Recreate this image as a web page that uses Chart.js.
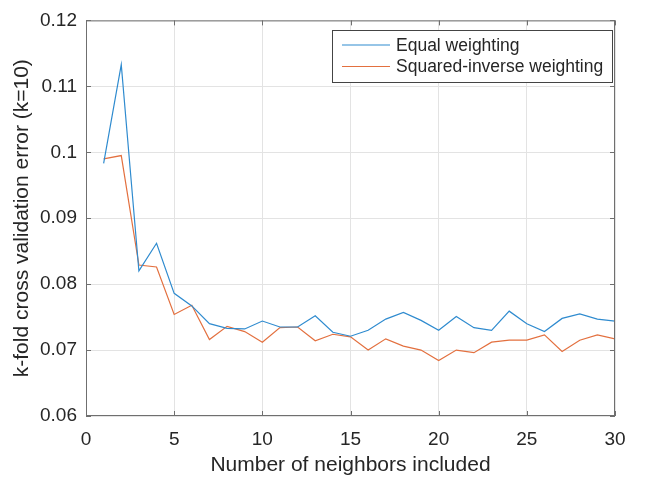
<!DOCTYPE html>
<html>
<head>
<meta charset="utf-8">
<script src="https://cdn.jsdelivr.net/npm/chart.js@4"></script>
<style>
  html, body { margin: 0; padding: 0; background: #fff; }
  #wrap { width: 649px; height: 479px; }
</style>
</head>
<body>
<div id="wrap"><canvas id="chartKnn" width="649" height="479"></canvas></div>
<script>
// ---------------- data ------------------------
const neighbors = [1, 2, 3, 4, 5, 6, 7, 8, 9, 10, 11, 12, 13, 14, 15,
                   16, 17, 18, 19, 20, 21, 22, 23, 24, 25, 26, 27, 28, 29, 30];
const equalWeighting = [0.0983, 0.1133, 0.0820, 0.0862, 0.0786, 0.0767, 0.0740, 0.0733, 0.0732, 0.0744,
                        0.0735, 0.0735, 0.0752, 0.0727, 0.0721, 0.0730, 0.0747, 0.0757, 0.0745, 0.0730,
                        0.0751, 0.0734, 0.0730, 0.0759, 0.0740, 0.0728, 0.0748, 0.0755, 0.0747, 0.0744];
const inverseWeighting = [0.0990, 0.0995, 0.0829, 0.0826, 0.0754, 0.0768, 0.0716, 0.0736, 0.0728, 0.0712,
                          0.0734, 0.0735, 0.0714, 0.0724, 0.0720, 0.0700, 0.0717, 0.0706, 0.0700, 0.0684,
                          0.0700, 0.0696, 0.0712, 0.0715, 0.0715, 0.0723, 0.0698, 0.0715, 0.0723, 0.0717];
const seriesLabels = ['Equal weighting', 'Squared-inverse weighting'];
const xTicks = [0, 5, 10, 15, 20, 25, 30];
const yTicks = [0.06, 0.07, 0.08, 0.09, 0.1, 0.11, 0.12];

const FONT = 'Liberation Sans, Arial, Helvetica, sans-serif';
const TEXT = '#262626';
const BOX = '#6f6f6f';

// box around the plot with inward ticks (matlab style)
const boxPlugin = {
    id: 'boxPlugin',
    afterDatasetsDraw(chart) {
        const { ctx, chartArea: a, scales } = chart;
        ctx.save();
        ctx.strokeStyle = BOX;
        ctx.lineWidth = 1;
        ctx.strokeRect(a.left + 0.5, a.top + 0.5, a.right - a.left - 1, a.bottom - a.top - 1);
        const len = 5;
        ctx.beginPath();
        xTicks.forEach(v => {
            const x = Math.round(scales.x.getPixelForValue(v)) + 0.5;
            ctx.moveTo(x, a.bottom); ctx.lineTo(x, a.bottom - len);
            ctx.moveTo(x, a.top); ctx.lineTo(x, a.top + len);
        });
        yTicks.forEach(v => {
            const y = Math.round(scales.y.getPixelForValue(v)) + 0.5;
            ctx.moveTo(a.left, y); ctx.lineTo(a.left + len, y);
            ctx.moveTo(a.right, y); ctx.lineTo(a.right - len, y);
        });
        ctx.stroke();
        ctx.restore();
    }
};

// legend box in the upper right corner
const legendBox = {
    id: 'legendBox',
    afterDraw(chart) {
        const { ctx, chartArea: a } = chart;
        const right = a.right - 3, left = 332, top = 30, bottom = 82;
        ctx.save();
        ctx.fillStyle = '#fff';
        ctx.fillRect(left, top, right - left, bottom - top);
        ctx.strokeStyle = '#444';
        ctx.lineWidth = 1;
        ctx.strokeRect(left + 0.5, top + 0.5, right - left, bottom - top);
        ctx.font = '17.5px ' + FONT;
        ctx.textBaseline = 'middle';
        chart.data.datasets.forEach((ds, i) => {
            const y = 45 + i * 21.5;
            ctx.strokeStyle = ds.borderColor;
            ctx.lineWidth = 1.2;
            ctx.beginPath();
            ctx.moveTo(342, y); ctx.lineTo(390, y);
            ctx.stroke();
            ctx.fillStyle = TEXT;
            ctx.fillText(ds.label, 396, y + 1);
        });
        ctx.restore();
    }
};

const graficoKnn = document.getElementById('chartKnn');

new Chart(graficoKnn, {
    type: 'line',
    data: {
        datasets: [{
            label: seriesLabels[0],
            data: neighbors.map((n, i) => ({ x: n, y: equalWeighting[i] })),
            borderColor: '#2f8bcf',
            borderWidth: 1.2,
            pointRadius: 0,
            tension: 0
        }, {
            label: seriesLabels[1],
            data: neighbors.map((n, i) => ({ x: n, y: inverseWeighting[i] })),
            borderColor: '#e3703f',
            borderWidth: 1.2,
            pointRadius: 0,
            tension: 0
        }]
    },
    options: {
        responsive: false,
        animation: false,
        layout: {
            padding: { top: 16, right: 34, left: 0, bottom: 0 }
        },
        scales: {
            x: {
                type: 'linear',
                min: 0,
                max: 30,
                afterBuildTicks: (scale) => { scale.ticks = xTicks.map(v => ({ value: v })); },
                afterFit: (scale) => { scale.height = 63; },
                ticks: {
                    color: TEXT,
                    padding: 12,
                    maxRotation: 0,
                    font: { family: FONT, size: 19 }
                },
                grid: {
                    color: '#e3e3e3',
                    drawTicks: false
                },
                border: { display: false },
                title: {
                    display: true,
                    text: 'Number of neighbors included',
                    color: TEXT,
                    padding: { top: 0, bottom: 1.5 },
                    font: { family: FONT, size: 21 }
                }
            },
            y: {
                type: 'linear',
                min: 0.06,
                max: 0.12,
                afterBuildTicks: (scale) => { scale.ticks = yTicks.map(v => ({ value: v })); },
                afterFit: (scale) => { scale.width = 86; },
                ticks: {
                    color: TEXT,
                    padding: 9,
                    font: { family: FONT, size: 19 },
                    callback: (v) => String(Math.round(v * 100) / 100)
                },
                grid: {
                    color: '#e3e3e3',
                    drawTicks: false
                },
                border: { display: false },
                title: {
                    display: true,
                    text: 'k-fold cross validation error (k=10)',
                    color: TEXT,
                    padding: { top: 10, bottom: 0 },
                    font: { family: FONT, size: 21 }
                }
            }
        },
        plugins: {
            legend: { display: false },
            tooltip: { enabled: false }
        }
    },
    plugins: [boxPlugin, legendBox]
});
</script>
</body>
</html>
